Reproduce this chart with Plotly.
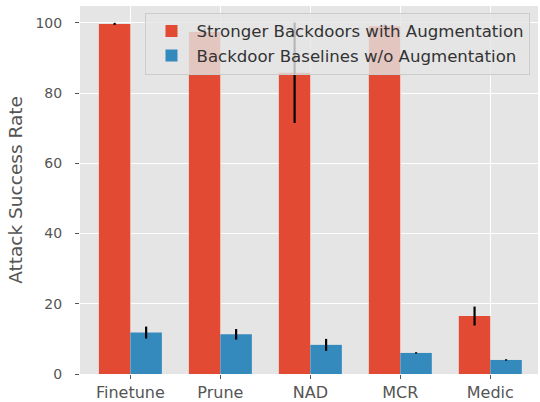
import plotly.graph_objects as go

categories = ["Finetune", "Prune", "NAD", "MCR", "Medic"]
strong_vals = [99.7, 97.4, 85.8, 99.0, 16.5]
strong_err = [0.3, 1.0, 14.3, 0.5, 2.7]
base_vals = [11.8, 11.3, 8.3, 6.0, 4.0]
base_err = [1.7, 1.5, 1.7, 0.2, 0.2]
series_names = ["Stronger Backdoors with Augmentation", "Backdoor Baselines w/o Augmentation"]

RED = "#E24A33"
BLUE = "#348ABD"
FONT = "DejaVu Sans"

fig = go.Figure()
fig.add_trace(go.Bar(
    x=categories, y=strong_vals, name=series_names[0],
    marker=dict(color=RED, line=dict(width=0)),
    error_y=dict(type="data", array=strong_err, color="black", thickness=2.2, width=0),
))
fig.add_trace(go.Bar(
    x=categories, y=base_vals, name=series_names[1],
    marker=dict(color=BLUE, line=dict(width=0)),
    error_y=dict(type="data", array=base_err, color="black", thickness=2.2, width=0),
))

fig.update_layout(
    width=540, height=402,
    margin=dict(l=80, r=2, t=6, b=28),
    paper_bgcolor="white",
    plot_bgcolor="#E5E5E5",
    barmode="group", bargap=0.3, bargroupgap=0,
    font=dict(family=FONT, color="#555555"),
    showlegend=True,
    legend=dict(
        x=0.143, y=0.982, xanchor="left", yanchor="top",
        bgcolor="rgba(229,229,229,0.8)", bordercolor="#CCCCCC", borderwidth=1,
        font=dict(family=FONT, size=16.6, color="#333333"),
        itemwidth=40,
        tracegroupgap=0,
    ),
    xaxis=dict(
        range=[-0.56, 4.53],
        automargin=False,
        showgrid=True, gridcolor="white", gridwidth=1,
        ticks="outside", ticklen=4, tickcolor="#555555", tickwidth=1,
        tickfont=dict(family=FONT, size=16, color="#555555"),
        zeroline=False, showline=False,
    ),
    yaxis=dict(
        range=[0, 104.8],
        automargin=False,
        tickvals=[0, 20, 40, 60, 80, 100],
        showgrid=True, gridcolor="white", gridwidth=1,
        ticks="outside", ticklen=4, tickcolor="#555555", tickwidth=1,
        ticklabelstandoff=10,
        tickfont=dict(family=FONT, size=14, color="#555555"),
        zeroline=False, showline=False,
        title=dict(text="Attack Success Rate", font=dict(family=FONT, size=18.5, color="#555555"), standoff=7),
    ),
)

fig.write_html("out.html", config={"displayModeBar": False},
               post_script="document.body.style.margin='0';")
